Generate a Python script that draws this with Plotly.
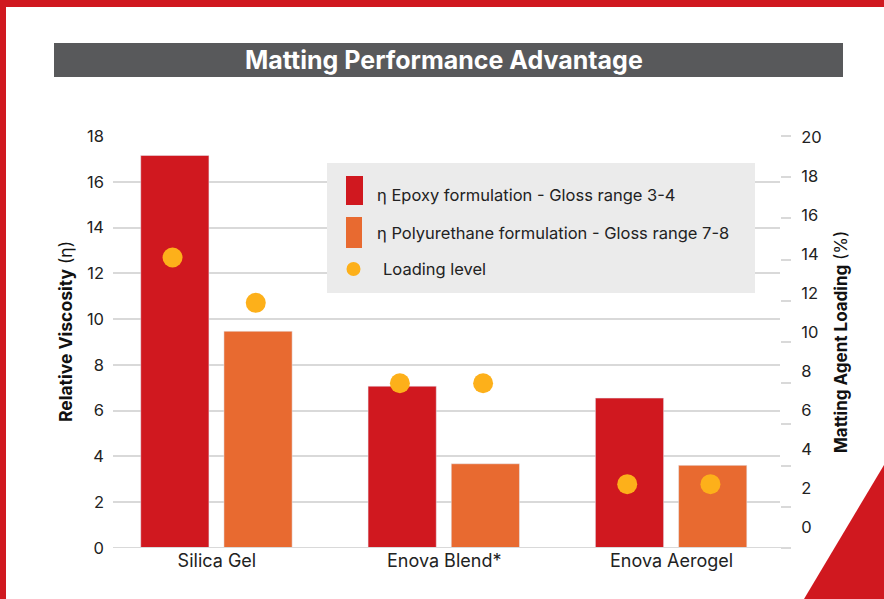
import plotly.graph_objects as go
import numpy as np

# ---------------- data ----------------
categories = ["Silica Gel", "Enova Blend*", "Enova Aerogel"]
epoxy_viscosity = [17.15, 7.07, 6.55]
pu_viscosity = [9.47, 3.68, 3.61]
loading_epoxy = [14.1, 8.0, 3.1]
loading_pu = [11.9, 8.0, 3.1]
series_names = ["η Epoxy formulation - Gloss range 3-4",
                "η Polyurethane formulation - Gloss range 7-8",
                "Loading level"]
left_ticks = [0, 2, 4, 6, 8, 10, 12, 14, 16, 18]
right_ticks = [0, 2, 4, 6, 8, 10, 12, 14, 16, 18, 20]
title_text = "Matting Performance Advantage"
left_title = "<b>Relative Viscosity</b> (η)"
right_title = "<b>Matting Agent Loading</b> (%)"

# ---------------- styles ----------------
RED = "#d0181f"
ORANGE = "#e86a30"
DOT = "#fdb01a"
GRID = "#d9d9d9"
FONT = "Inter"
W, H = 884, 599
L, R, T, B = 113, 104, 136, 51
PW, PH = W - L - R, H - T - B

def px(x):
    return (x - L) / PW

def py(y):
    return (H - B - y) / PH

idx = np.arange(len(categories))
bar_w = 0.30
off_e, off_p = -0.335, 0.031

fig = go.Figure()
fig.add_trace(go.Bar(x=idx, y=epoxy_viscosity, width=bar_w, offset=off_e,
                     marker_color=RED, name=series_names[0], showlegend=False))
fig.add_trace(go.Bar(x=idx, y=pu_viscosity, width=bar_w, offset=off_p,
                     marker_color=ORANGE, name=series_names[1], showlegend=False))
fig.add_trace(go.Scatter(x=idx + off_e + bar_w / 2 - 0.01, y=loading_epoxy, yaxis="y2",
                         mode="markers", marker=dict(color=DOT, size=20),
                         name=series_names[2], showlegend=False))
fig.add_trace(go.Scatter(x=idx + off_p + bar_w / 2 - 0.01, y=loading_pu, yaxis="y2",
                         mode="markers", marker=dict(color=DOT, size=20),
                         name=series_names[2], showlegend=False))

shapes = []
# red border
shapes.append(dict(type="rect", xref="paper", yref="paper", x0=px(0), x1=px(W),
                   y0=py(7), y1=py(0), fillcolor=RED, line_width=0, layer="above"))
shapes.append(dict(type="rect", xref="paper", yref="paper", x0=px(0), x1=px(6),
                   y0=py(H), y1=py(0), fillcolor=RED, line_width=0, layer="above"))
# triangle
shapes.append(dict(type="path", xref="paper", yref="paper",
                   path=f"M {px(804)} {py(599)} L {px(884)} {py(465)} L {px(884)} {py(599)} Z",
                   fillcolor=RED, line_width=0, layer="above"))
# title bar
shapes.append(dict(type="rect", xref="paper", yref="paper", x0=px(54), x1=px(843),
                   y0=py(77), y1=py(43), fillcolor="#58595b", line_width=0, layer="above"))
# legend box
shapes.append(dict(type="rect", xref="paper", yref="paper", x0=px(327), x1=px(755),
                   y0=py(293), y1=py(163), fillcolor="#ebebeb", line_width=0, layer="above"))
shapes.append(dict(type="rect", xref="paper", yref="paper", x0=px(346), x1=px(363),
                   y0=py(205), y1=py(176), fillcolor=RED, line_width=0, layer="above"))
shapes.append(dict(type="rect", xref="paper", yref="paper", x0=px(346), x1=px(362),
                   y0=py(248), y1=py(217), fillcolor=ORANGE, line_width=0, layer="above"))
shapes.append(dict(type="circle", xref="paper", yref="paper", x0=px(346.5), x1=px(360.5),
                   y0=py(276), y1=py(262), fillcolor=DOT, line_width=0, layer="above"))

annotations = [
    dict(text=f"<b>{title_text}</b>", xref="paper", yref="paper", x=px(444), y=py(60),
         showarrow=False, font=dict(family=FONT, size=25, color="white"),
         xanchor="center", yanchor="middle"),
    dict(text=series_names[0], xref="paper", yref="paper", x=px(375), y=py(195),
         showarrow=False, font=dict(family=FONT, size=16.5, color="#222"),
         xanchor="left", yanchor="middle"),
    dict(text=series_names[1], xref="paper", yref="paper", x=px(375), y=py(233),
         showarrow=False, font=dict(family=FONT, size=16.5, color="#222"),
         xanchor="left", yanchor="middle"),
    dict(text=series_names[2], xref="paper", yref="paper", x=px(381), y=py(269),
         showarrow=False, font=dict(family=FONT, size=16.5, color="#222"),
         xanchor="left", yanchor="middle"),
    dict(text=left_title, xref="paper", yref="paper", x=px(65), y=py(332),
         showarrow=False, textangle=-90, font=dict(family=FONT, size=17.5, color="#111"),
         xanchor="center", yanchor="middle"),
    dict(text=right_title, xref="paper", yref="paper", x=px(841), y=py(342),
         showarrow=False, textangle=-90, font=dict(family=FONT, size=17, color="#111"),
         xanchor="center", yanchor="middle"),
]

fig.update_layout(
    width=W, height=H,
    margin=dict(l=L, r=R, t=T, b=B, autoexpand=False),
    paper_bgcolor="white", plot_bgcolor="white",
    font=dict(family=FONT, color="#222"),
    barmode="overlay",
    xaxis=dict(range=[-0.457, 2.477], tickvals=list(idx), ticktext=categories,
               showgrid=False, zeroline=False, showline=False, ticks="",
               tickfont=dict(size=18, color="#222"), fixedrange=True),
    yaxis=dict(range=[0, 18], tickvals=left_ticks, showgrid=True, gridcolor=GRID,
               gridwidth=2, zeroline=False, showline=False, ticks="",
               ticklabelstandoff=8, tickfont=dict(size=16.5, color="#222")),
    yaxis2=dict(range=[0, 20], tickvals=right_ticks, overlaying="y", side="right",
                showgrid=False, zeroline=False, showline=False, ticks="outside",
                ticklen=10, tickwidth=2, tickcolor=GRID, showticklabels=False),
    yaxis3=dict(range=[-1.07, 20.04], tickvals=right_ticks, overlaying="y", side="right",
                showgrid=False, zeroline=False, showline=False, ticks="outside",
                ticklen=17, tickcolor="rgba(0,0,0,0)", tickfont=dict(size=16.5, color="#222")),
    shapes=shapes,
    annotations=annotations,
)
# bottom baseline (extends across right ticks)
fig.add_shape(type="line", xref="paper", yref="y", x0=0, x1=px(791), y0=0, y1=0,
              line=dict(color=GRID, width=2))

# attach invisible trace to yaxis3 so it renders
fig.add_trace(go.Scatter(x=[idx[0]], y=[None], yaxis="y3", showlegend=False,
                         hoverinfo="skip"))

fig.write_html("out.html", config={"displayModeBar": False},
               post_script="document.body.style.margin='0';document.body.style.overflow='hidden';")
